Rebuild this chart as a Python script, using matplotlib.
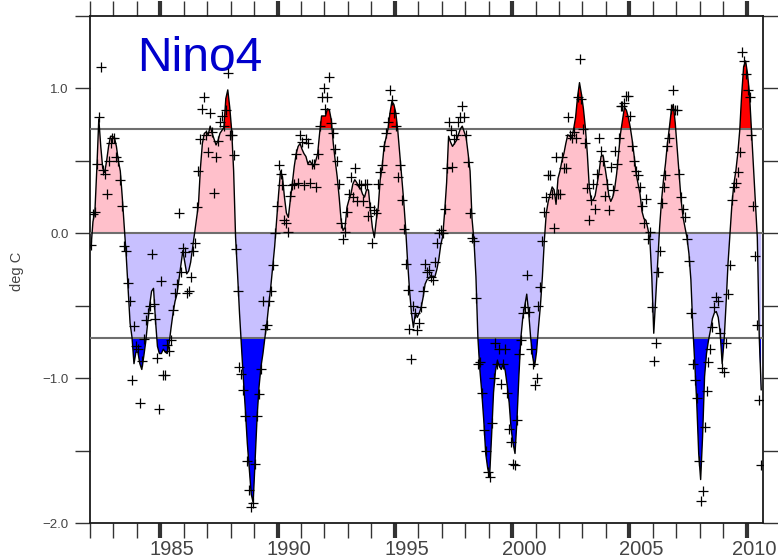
#!/usr/bin/env python3

# Nino4 SST anomaly - smoothed curve (filled) and monthly values (+)

import numpy as np
import matplotlib
matplotlib.use('Agg')
import matplotlib.pyplot as plt
from matplotlib.ticker import MultipleLocator
from matplotlib.transforms import blended_transform_factory

plt.rcParams['font.family'] = ['Liberation Sans', 'DejaVu Sans']

# data: monthly, Jan 1982 .. Aug 2010
start_year = 1982
threshold = 0.72

# smoothed anomaly (deg C)
smooth = [
    -0.10, 0.08, 0.15, 0.45, 0.79, 0.60, 0.45, 0.42, 0.50, 0.60, 0.67, 0.67,        # 1982
    0.66, 0.60, 0.50, 0.43, 0.25, 0.05, -0.15, -0.38, -0.62, -0.72, -0.90, -0.82,   # 1983
    -0.82, -0.90, -0.94, -0.85, -0.75, -0.62, -0.50, -0.40, -0.38, -0.60, -0.78, -0.83,
    -0.83, -0.80, -0.82, -0.83, -0.76, -0.65, -0.55, -0.47, -0.42, -0.32, -0.22, -0.12,
    -0.20, -0.28, -0.26, -0.20, -0.10, 0.00, 0.10, 0.20, 0.45, 0.62, 0.69, 0.70,
    0.68, 0.74, 0.69, 0.65, 0.61, 0.64, 0.69, 0.71, 0.73, 0.93, 0.99, 0.87,         # 1987
    0.71, 0.43, -0.03, -0.28, -0.55, -0.78, -1.01, -1.22, -1.45, -1.63, -1.80, -1.86,
    -1.57, -1.27, -1.06, -0.92, -0.83, -0.72, -0.62, -0.49, -0.37, -0.23, -0.09, 0.09,
    0.27, 0.43, 0.39, 0.25, 0.14, 0.11, 0.23, 0.34, 0.46, 0.55, 0.60, 0.62,
    0.58, 0.55, 0.53, 0.48, 0.50, 0.48, 0.46, 0.50, 0.55, 0.69, 0.81, 0.81,
    0.81, 0.86, 0.85, 0.78, 0.62, 0.50, 0.39, 0.25, 0.09, 0.02, 0.04, 0.18,         # 1992
    0.23, 0.27, 0.34, 0.37, 0.35, 0.32, 0.31, 0.27, 0.25, 0.30, 0.30, 0.16,
    0.04, -0.03, 0.09, 0.18, 0.37, 0.46, 0.60, 0.66, 0.72, 0.83, 0.91, 0.89,
    0.83, 0.71, 0.55, 0.39, 0.23, 0.04, -0.19, -0.39, -0.55, -0.65, -0.55, -0.58,
    -0.55, -0.51, -0.44, -0.35, -0.32, -0.31, -0.29, -0.30, -0.30, -0.25, -0.18, -0.08,
    -0.02, 0.15, 0.35, 0.67, 0.63, 0.60, 0.62, 0.64, 0.68, 0.72, 0.74, 0.70,        # 1997
    0.66, 0.55, 0.43, 0.10, -0.05, -0.30, -0.72, -0.94, -1.10, -1.29, -1.52, -1.62,
    -1.68, -1.40, -1.10, -0.95, -0.88, -0.92, -0.94, -0.90, -0.95, -1.05, -1.17, -1.35,
    -1.45, -1.52, -1.29, -0.98, -0.72, -0.58, -0.50, -0.42, -0.55, -0.72, -0.85, -0.92,
    -0.82, -0.65, -0.50, -0.30, -0.05, 0.14, 0.22, 0.27, 0.32, 0.30, 0.20, 0.38,
    0.43, 0.50, 0.55, 0.62, 0.68, 0.67, 0.66, 0.72, 0.80, 0.94, 1.04, 0.96,         # 2002
    0.86, 0.73, 0.55, 0.32, 0.23, 0.23, 0.26, 0.34, 0.42, 0.53, 0.54, 0.46,
    0.37, 0.26, 0.22, 0.25, 0.31, 0.41, 0.55, 0.69, 0.78, 0.87, 0.85, 0.80,
    0.73, 0.64, 0.53, 0.41, 0.34, 0.27, 0.15, 0.10, 0.09, 0.03, -0.04, -0.30,
    -0.69, -0.45, -0.20, 0.04, 0.23, 0.37, 0.48, 0.62, 0.73, 0.85, 0.89, 0.76,
    0.58, 0.39, 0.23, 0.11, 0.04, -0.03, -0.14, -0.32, -0.65, -0.90, -1.17, -1.52,  # 2007
    -1.70, -1.40, -0.99, -0.83, -0.74, -0.67, -0.59, -0.55, -0.54, -0.58, -0.69, -0.90,
    -0.74, -0.49, -0.21, 0.00, 0.20, 0.34, 0.43, 0.55, 0.71, 0.96, 1.15, 1.19,
    1.10, 0.96, 0.71, 0.46, 0.20, -0.03, -0.72, -1.08,
]

# monthly anomaly (deg C), the crosses
monthly = [
    -0.08, 0.13, 0.15, 0.48, 0.80, 1.15, 0.44, 0.41, 0.27, 0.50, 0.62, 0.66,        # 1982
    0.66, 0.53, 0.50, 0.37, 0.19, -0.09, -0.12, -0.34, -0.47, -1.01, -0.64, -0.78,
    -0.80, -1.17, -0.88, -0.73, -0.60, -0.55, -0.50, -0.14, -0.49, -0.59, -0.86, -1.21,
    -0.33, -0.98, -0.98, -0.77, -0.81, -0.74, -0.53, -0.41, -0.35, 0.14, -0.27, -0.10,
    -0.13, -0.41, -0.40, -0.30, -0.12, -0.07, 0.18, 0.43, 0.65, 0.86, 0.94, 0.68,
    0.56, 0.83, 0.70, 0.28, 0.53, 0.64, 0.77, 0.81, 0.74, 0.85, 1.11, 0.68,         # 1987
    0.68, 0.54, -0.11, -0.40, -0.92, -0.97, -1.08, -1.26, -1.57, -1.77, -1.89, -1.86,
    -1.59, -1.26, -1.11, -0.94, -0.47, -0.66, -0.63, -0.47, -0.40, -0.22, 0.00, 0.19,
    0.47, 0.41, 0.33, 0.09, 0.07, 0.01, 0.26, 0.33, 0.34, 0.55, 0.35, 0.68,
    0.63, 0.33, 0.65, 0.62, 0.35, 0.48, 0.48, 0.32, 0.55, 0.74, 0.94, 1.00,
    0.86, 0.94, 1.08, 0.76, 0.69, 0.58, 0.50, 0.34, 0.07, -0.04, 0.01, 0.15,        # 1992
    0.27, 0.39, 0.25, 0.45, 0.22, 0.34, 0.33, 0.22, 0.34, 0.34, 0.12, 0.18,
    -0.07, 0.16, 0.14, 0.34, 0.42, 0.47, 0.60, 0.69, 0.77, 0.99, 0.92, 0.83,
    0.74, 0.39, 0.47, 0.23, 0.03, -0.21, -0.39, -0.66, -0.87, -0.50, -0.55, -0.67,
    -0.62, -0.51, -0.40, -0.21, -0.27, -0.25, -0.30, -0.32, -0.20, -0.07, 0.00, 0.02,
    0.00, 0.17, 0.45, 0.77, 0.71, 0.46, 0.65, 0.68, 0.77, 0.80, 0.88, 0.80,         # 1997
    0.68, 0.49, 0.14, -0.03, -0.05, -0.45, -0.90, -0.89, -1.10, -1.36, -1.50, -1.65,
    -1.68, -1.31, -1.00, -0.76, -0.90, -0.80, -1.04, -0.90, -0.80, -1.10, -1.35, -1.44,
    -1.59, -1.60, -1.29, -0.83, -0.74, -0.55, -0.51, -0.29, -0.54, -0.80, -0.90, -1.05,
    -1.00, -0.50, -0.37, -0.05, 0.15, 0.25, 0.40, 0.40, 0.27, 0.04, 0.53, 0.27,
    0.27, 0.53, 0.45, 0.45, 0.80, 0.68, 0.66, 0.70, 0.66, 0.94, 1.20, 0.93,         # 2002
    0.72, 0.62, 0.31, 0.09, 0.23, 0.34, 0.17, 0.41, 0.66, 0.57, 0.50, 0.26,
    0.34, 0.16, 0.46, 0.30, 0.57, 0.48, 0.66, 0.88, 0.88, 0.90, 0.95, 0.95,
    0.81, 0.60, 0.50, 0.43, 0.40, 0.32, 0.19, 0.07, 0.24, -0.04, 0.01, -0.51,
    -0.88, -0.76, -0.27, -0.12, 0.21, 0.32, 0.40, 0.60, 0.66, 0.86, 0.99, 0.85,
    0.85, 0.41, 0.25, 0.17, 0.11, -0.04, -0.19, -0.55, -0.90, -1.01, -1.14, -1.57,  # 2007
    -1.85, -1.78, -1.34, -1.09, -0.89, -0.80, -0.65, -0.51, -0.44, -0.47, -0.69, -0.93,
    -0.96, -0.76, -0.42, -0.22, 0.23, 0.32, 0.35, 0.42, 0.56, 1.25, 1.19, 1.10,
    0.99, 0.94, 0.68, 0.19, -0.16, -0.63, -1.15, -1.60,
]

year_labels = [1985, 1990, 1995, 2000, 2005, 2010]

# monthly time axis (mid-month)
t = start_year + (np.arange(len(smooth)) + 0.5) / 12.0
v = np.array(smooth)
c = np.array(monthly)

fig = plt.figure(figsize=(7.78, 5.58), dpi=100)
ax = fig.add_axes([0.1157, 0.0627, 0.8650, 0.9086])

# shaded anomalies
ax.fill_between(t, 0, v, where=v > 0, interpolate=True, color='#ffc0cb', lw=0, zorder=1)
ax.fill_between(t, threshold, v, where=v > threshold, interpolate=True, color='#ff0000', lw=0, zorder=2)
ax.fill_between(t, 0, v, where=v < 0, interpolate=True, color='#c8c0ff', lw=0, zorder=1)
ax.fill_between(t, -threshold, v, where=v < -threshold, interpolate=True, color='#0000ff', lw=0, zorder=2)

# reference lines
for lev in (0.0, threshold, -threshold):
    ax.axhline(lev, color='#6e6e6e', lw=1.5, zorder=3)

ax.plot(t, v, '-', color='black', lw=1.0, zorder=4)
ax.plot(t[:len(c)], c, '+', color='black', ms=7, mew=0.9, zorder=5)

ax.set_xlim(1982.0, 2010.7)
ax.set_ylim(-2.0, 1.5)

# ticks
ax.xaxis.set_major_locator(MultipleLocator(5))
ax.xaxis.set_minor_locator(MultipleLocator(1))
ax.yaxis.set_major_locator(MultipleLocator(1.0))
ax.yaxis.set_minor_locator(MultipleLocator(0.5))
ax.tick_params(which='both', direction='out', top=True, right=True,
               length=10.5, color='#333333', labelcolor='#444444')
ax.tick_params(axis='x', which='major', width=3.0, labelbottom=False)
ax.tick_params(axis='x', which='minor', width=1.0)
ax.tick_params(axis='y', which='both', width=1.0, labelsize=9.5, pad=5)
ax.yaxis.set_major_formatter(plt.FuncFormatter(lambda y, p: f'{y:.1f}'.replace('-', '\u2212')))

for s in ax.spines.values():
    s.set_linewidth(1.3)
    s.set_color('#1a1a1a')

# year labels sit in the middle of their year
trans = blended_transform_factory(ax.transData, ax.transAxes)
for yr in year_labels:
    xpos = yr + 0.5 if yr < 2010 else yr + 0.33
    ax.text(xpos, -0.063, str(yr), transform=trans, ha='center', va='baseline',
            fontsize=14.5, color='#444444')

ax.text(0.070, 0.8915, 'Nino4', transform=ax.transAxes, ha='left', va='baseline',
        fontsize=34.5, color='#0000cc')

fig.text(17 / 778, 1 - 271 / 558, 'deg C', rotation=90, ha='center', va='center',
         fontsize=10.5, color='#444444')

fig.savefig('out.png', dpi=100)
